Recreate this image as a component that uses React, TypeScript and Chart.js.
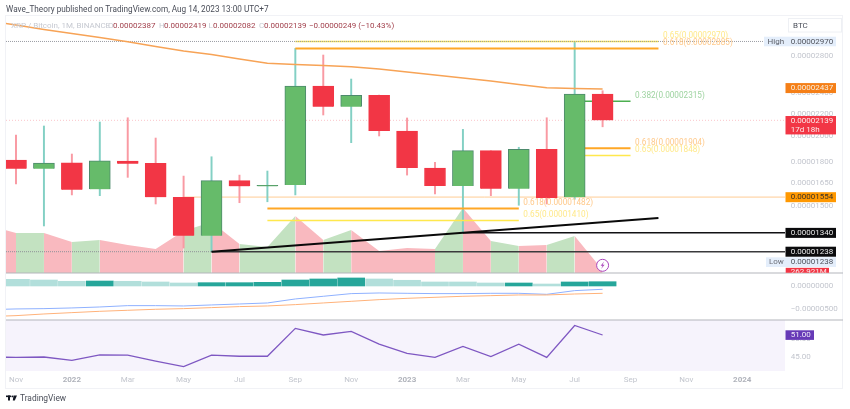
import { useEffect, useRef } from "react"
import { Chart, registerables } from "chart.js"

Chart.register(...registerables)

// prices in satoshi (1e-8 BTC). Index 0 = Nov 2021
const opens = [1813, 1749, 1793, 1605, 1806, 1789, 1553, 1323, 1664, 1625, 1634, 2467, 2264, 2373, 2046, 1754, 1627, 1885, 1609, 1896, 1553, 2387]
const highs = [2012, 2089, 1859, 2124, 2162, 1987, 1696, 1838, 1703, 1732, 2885, 2807, 2540, 2376, 2160, 1796, 2060, 1885, 1912, 2162, 2970, 2419]
const lows = [1641, 1378, 1568, 1563, 1687, 1510, 1257, 1238, 1518, 1524, 1568, 2187, 1949, 2004, 1703, 1574, 1345, 1563, 1502, 1510, 1540, 2082]
const closes = [1749, 1791, 1602, 1808, 1786, 1553, 1323, 1664, 1625, 1632, 2467, 2264, 2373, 2046, 1754, 1627, 1885, 1609, 1896, 1548, 2387, 2139]

// line series start one month earlier (Oct 2021), off the left edge
const months = [-1, 0, 1, 2, 3, 4, 5, 6, 7, 8, 9, 10, 11, 12, 13, 14, 15, 16, 17, 18, 19, 20, 21]
const ema = [3234, 3180, 3121, 3069, 3019, 2967, 2908, 2854, 2813, 2761, 2712, 2698, 2687, 2674, 2648, 2615, 2583, 2551, 2519, 2483, 2450, 2442, 2437]
const volumes = [4224, 3520, 3520, 2728, 2904, 2464, 2112, 3696, 4488, 2552, 2288, 5016, 2904, 3784, 1936, 2200, 2112, 5720, 2816, 2376, 2464, 3256, 263]
const macdLine = [-514, -499, -492, -477, -456, -427, -427, -434, -412, -391, -369, -282, -224, -166, -152, -159, -166, -166, -159, -159, -181, -101, -72]
const signalLine = [-665, -644, -608, -579, -550, -528, -506, -492, -470, -448, -434, -405, -369, -333, -297, -268, -246, -224, -210, -195, -195, -174, -159]
const rsi = [45.0, 44.9, 45.0, 44.1, 45.6, 45.5, 43.9, 42.4, 45.5, 45.2, 45.2, 52.8, 51.0, 52.0, 48.5, 46.0, 44.9, 47.9, 45.1, 48.5, 44.9, 53.6, 51.0]
const histogram = [145, 130, 102, 108, 102, 87, 65, 72, 72, 80, 130, 152, 174, 152, 124, 87, 87, 65, 65, 43, 87, 93]
const histogramRising = [false, false, false, true, false, false, false, true, true, true, true, true, true, false, false, false, false, false, true, false, true, true]

const fibRatios = ["0.65", "0.618", "0.382", "0.618", "0.65", "0.618", "0.65"]
const fibPrices = [2970, 2885, 2315, 1904, 1848, 1482, 1410]
const fibStarts = [10, 10, 20, 20, 20, 9, 9]
const fibEnds = [23, 23, 22, 22, 22, 18, 18]

const trendStart = [7, 1238]
const trendEnd = [23, 1424]

const priceTicks = [2800, 2400, 2200, 2000, 1800, 1650, 1500]
const macdTicks = [0, -500]
const rsiTicks = [50, 45]
const timeTicks = [0, 2, 4, 6, 8, 10, 12, 14, 16, 18, 20, 22, 24, 26]
const timeLabels = ["Nov", "2022", "Mar", "May", "Jul", "Sep", "Nov", "2023", "Mar", "May", "Jul", "Sep", "Nov", "2024"]

const FONT = "Roboto, sans-serif"
const GREEN = "#66bb6a"
const RED = "#f23645"
const GRID_TEXT = "#c3c6ce"
const fibColor = (r: string) => (r === "0.65" ? "#ffe84d" : r === "0.382" ? "#4caf50" : "#ffa726")
const fibWidth = (r: string) => (r === "0.618" ? 2 : 1.6)
const fibTextColor = (r: string) => (r === "0.65" ? "#ffe98a" : r === "0.382" ? "#9ed3a0" : "#ffc98a")
const sat = (v: number) => (v / 1e8).toFixed(8)
const isUp = closes.map((c, i) => c >= opens[i])
const candleX = closes.map((_, i) => i)
const isYear = (v: number) => !!timeLabels[timeTicks.indexOf(v)]?.startsWith("20")

const hline = (x0: number, x1: number, y: number, color: string, width: number, dash: number[] = [], order = 5) => ({
  type: "line" as const,
  data: [{ x: x0, y }, { x: x1, y }],
  yAxisID: "y",
  borderColor: color,
  borderWidth: width,
  borderDash: dash,
  pointRadius: 0,
  order,
})

const X_MIN = -0.358
const X_MAX = 27.53

const painter = {
  id: "painter",
  beforeDatasetsDraw(chart: any) {
    const { ctx, chartArea: a, scales } = chart
    const rsiTop = scales.rsi.top
    ctx.save()
    ctx.fillStyle = "#f6f3fc"
    ctx.fillRect(a.left, rsiTop, a.right - a.left, scales.rsi.bottom - rsiTop)
    ctx.restore()
  },
  afterDraw(chart: any) {
    const { ctx, scales } = chart
    const px = scales.y
    const text = (s: string, x: number, y: number, color: string, font = "8px " + FONT, align: CanvasTextAlign = "left") => {
      ctx.font = font
      ctx.fillStyle = color
      ctx.textAlign = align
      ctx.textBaseline = "middle"
      ctx.fillText(s, x, y)
    }
    ctx.save()

    // frame and pane separators
    ctx.strokeStyle = "#f1f2f6"
    ctx.lineWidth = 1
    ctx.strokeRect(5.5, 15.5, 837, 373)
    ctx.fillStyle = "#b4b6bc"
    ctx.fillRect(6, 272.5, 837, 1)
    ctx.fillRect(6, 319.5, 837, 1)

    // header
    text("Wave_Theory published on TradingView.com, Aug 14, 2023 13:00 UTC+7", 6, 9.5, "#4a4e59", "8.2px " + FONT)
    const valueColor = "#a2404c"
    text("XRP / Bitcoin, 1M, BINANCE", 11, 25.5, "#c6c9d1")
    text("O", 108, 25.5, "#c6c9d1")
    text("0.00002387", 113, 25.5, valueColor)
    text("H", 159, 25.5, "#c6c9d1")
    text("0.00002419", 164, 25.5, valueColor)
    text("L", 208.5, 25.5, "#c6c9d1")
    text("0.00002082", 213, 25.5, valueColor)
    text("C", 259, 25.5, "#c6c9d1")
    text("0.00002139", 264, 25.5, valueColor)
    text("\u22120.00000249 (\u221210.43%)", 309, 25.5, valueColor)

    // fib labels
    const fibDy = [-5.8, -5.4, -5.3, -5.8, -5.3, -5.8, -5.4]
    fibRatios.forEach((r, i) => {
      const x = scales.x.getPixelForValue(fibEnds[i]) + 4.5
      text(`${r}(${sat(fibPrices[i])})`, x, px.getPixelForValue(fibPrices[i]) + fibDy[i], fibTextColor(r), "8.2px " + FONT)
    })

    // BTC box
    ctx.strokeStyle = "#eef0f4"
    ctx.strokeRect(788.5, 18.5, 53, 13.5)
    text("BTC", 793, 25.5, "#4a4e59")

    // price badges
    const badge = (v: number, bg: string, fg = "#f4f4f4", dy = 0, h = 10) => {
      const y = px.getPixelForValue(v) + dy
      ctx.fillStyle = bg
      ctx.fillRect(785.5, y - 5, 50.5, h)
      text(sat(v), 790.7, y, fg)
      return y
    }
    ctx.fillStyle = "#e4eefb"
    ctx.fillRect(764, 36.7, 72, 9.6)
    text("High", 767.5, 41.5, "#5d6069")
    text(sat(2970), 790.7, 41.5, "#50535c")
    badge(2437, "#f57f17", "#f8efe0", -0.9)
    badge(2139, RED, "#fbeaea", 0.7, 18.4)
    text("17d 18h", 790.7, 129.5, "#fbeaea")
    badge(1554, "#ff9800", "#3a3226", 0.1)
    badge(1340, "#0b0b0d", "#e8e8e8", 0.2)
    badge(1238, "#0b0b0d", "#e8e8e8", 0)
    ctx.fillStyle = "#e4eefb"
    ctx.fillRect(766, 257.3, 70, 9.7)
    text("Low", 769, 262, "#6d7079")
    text(sat(1238), 790.7, 262, "#50535c")

    // current volume tag, cut by the pane edge
    ctx.save()
    ctx.beginPath()
    ctx.rect(785, 267.5, 50, 5.2)
    ctx.clip()
    ctx.fillStyle = RED
    ctx.fillRect(785.7, 267.7, 43.3, 6)
    text("262.921M", 790.7, 272, "#fbeaea")
    ctx.restore()

    // RSI badge
    const rsiY = scales.rsi.getPixelForValue(51)
    ctx.fillStyle = "#673ab7"
    ctx.fillRect(785.5, rsiY - 4.7, 28.5, 9.6)
    text("51.00", 790.7, rsiY, "#f1ecf9")

    // lightning marker
    const mx = scales.x.getPixelForValue(21)
    const my = 265.3
    ctx.strokeStyle = "#ab47bc"
    ctx.lineWidth = 1
    ctx.fillStyle = "#ffffff"
    ctx.beginPath()
    ctx.arc(mx, my, 6, 0, Math.PI * 2)
    ctx.fill()
    ctx.stroke()
    ctx.fillStyle = "#ab47bc"
    ctx.beginPath()
    ctx.moveTo(mx + 1.5, my - 3.8)
    ctx.lineTo(mx - 2, my + 0.5)
    ctx.lineTo(mx, my + 0.5)
    ctx.lineTo(mx - 1.5, my + 3.8)
    ctx.lineTo(mx + 2, my - 0.6)
    ctx.lineTo(mx, my - 0.6)
    ctx.closePath()
    ctx.fill()

    // TradingView mark
    ctx.fillStyle = "#131722"
    ctx.fillRect(6, 395.5, 5, 1.6)
    ctx.fillRect(8, 395.5, 2, 5)
    ctx.beginPath()
    ctx.arc(12.3, 396.4, 0.9, 0, Math.PI * 2)
    ctx.fill()
    ctx.beginPath()
    ctx.moveTo(13.5, 395.5)
    ctx.lineTo(17, 395.5)
    ctx.lineTo(14.8, 400.5)
    ctx.lineTo(12.8, 400.5)
    ctx.closePath()
    ctx.fill()
    text("TradingView", 20, 398.7, "#4a4e59", "8.4px " + FONT)

    ctx.restore()
  },
}

export default function App() {
  const canvasRef = useRef<HTMLCanvasElement>(null)

  useEffect(() => {
    if (!canvasRef.current) return
    const ctx = canvasRef.current.getContext("2d")
    if (!ctx) return

    const chart = new Chart(ctx, {
      type: "bar",
      data: {
        datasets: [
          {
            type: "line",
            data: months.map((x, i) => ({ x, y: volumes[i] })),
            yAxisID: "vol",
            borderWidth: 0,
            pointRadius: 0,
            backgroundColor: "#f9b9bf",
            fill: { value: 0 },
            segment: {
              backgroundColor: (c: any) => (isUp[c.p1DataIndex - 1] ? "#c3e2c1" : "#f9b9bf"),
            },
            order: 30,
          },
          hline(X_MIN, 7, 1238, "#8f9199", 1, [1, 1], 29),
          hline(X_MIN, X_MAX, 2970, "#9a9ca4", 1, [1, 1], 3),
          hline(X_MIN, X_MAX, 2139, "#fbc4c9", 1, [1, 2], 29),
          hline(6, X_MAX, 1554, "#ffcc94", 1, [], 28),
          {
            type: "bar",
            data: candleX.map((x, i) => ({ x, y: [lows[i], highs[i]] })),
            yAxisID: "y",
            barThickness: 1.3,
            grouped: false,
            backgroundColor: isUp.map((u) => (u ? "#83d0c4" : "#f99aa3")),
            order: 12,
          },
          {
            type: "bar",
            data: candleX.map((x, i) => ({ x, y: [opens[i], closes[i]] })),
            yAxisID: "y",
            barThickness: 21,
            grouped: false,
            backgroundColor: isUp.map((u) => (u ? GREEN : RED)),
            borderColor: isUp.map((u) => (u ? "#4d8a6c" : RED)),
            borderWidth: 1,
            order: 10,
          },
          ...fibPrices.map((p, i) =>
            hline(fibStarts[i], fibEnds[i], p, fibColor(fibRatios[i]), fibWidth(fibRatios[i]), [], i < 2 ? 4 : i < 5 ? 11 : 4),
          ),
          hline(7, X_MAX, 1238, "#3a3a3c", 1.4, [], 3),
          hline(16, X_MAX, 1340, "#111114", 1.4, [], 3),
          {
            type: "line",
            data: [
              { x: trendStart[0], y: trendStart[1] },
              { x: trendEnd[0], y: trendEnd[1] },
            ],
            yAxisID: "y",
            borderColor: "#0a0a0a",
            borderWidth: 2,
            pointRadius: 0,
            order: 2,
          },
          {
            type: "line",
            data: months.map((x, i) => ({ x, y: ema[i] })),
            yAxisID: "y",
            borderColor: "#f7a356",
            borderWidth: 1.5,
            pointRadius: 0,
            order: 1,
          },
          {
            type: "bar",
            data: candleX.map((x, i) => ({ x, y: histogram[i] })),
            yAxisID: "macd",
            barThickness: 27,
            grouped: false,
            backgroundColor: histogramRising.map((u) => (u ? "#26a69a" : "#b2dfdb")),
            order: 9,
          },
          {
            type: "line",
            data: months.map((x, i) => ({ x, y: macdLine[i] })),
            yAxisID: "macd",
            borderColor: "#8fb1ff",
            borderWidth: 1,
            pointRadius: 0,
            order: 8,
          },
          {
            type: "line",
            data: months.map((x, i) => ({ x, y: signalLine[i] })),
            yAxisID: "macd",
            borderColor: "#ffb27a",
            borderWidth: 1,
            pointRadius: 0,
            order: 7,
          },
          {
            type: "line",
            data: months.map((x, i) => ({ x, y: rsi[i] })),
            yAxisID: "rsi",
            borderColor: "#7e57c2",
            borderWidth: 1.3,
            pointRadius: 0,
            order: 6,
          },
        ] as any,
      },
      options: {
        responsive: false,
        animation: false,
        font: { family: FONT },
        layout: { padding: { left: 6, top: 16, right: 7, bottom: 21 } },
        plugins: { legend: { display: false }, tooltip: { enabled: false } },
        elements: { line: { tension: 0 } },
        scales: {
          x: {
            type: "linear",
            min: X_MIN,
            max: X_MAX,
            offset: false,
            grid: { display: false, drawTicks: false },
            border: { display: false },
            afterBuildTicks: (s: any) => {
              s.ticks = timeTicks.map((value) => ({ value }))
            },
            afterFit: (s: any) => {
              s.height = 17
            },
            ticks: {
              autoSkip: false,
              maxRotation: 0,
              padding: 4,
              color: (c: any) => (isYear(c.tick?.value) ? "#b0b3bb" : GRID_TEXT),
              font: (c: any) => ({
                family: FONT,
                size: 8,
                weight: isYear(c.tick?.value) ? "bold" : "normal",
              }),
              callback: (v: any) => timeLabels[timeTicks.indexOf(v)] ?? "",
            },
          },
          y: {
            type: "logarithmic",
            position: "right",
            stack: "panes",
            stackWeight: 257,
            min: 1133,
            max: 3302,
            bounds: "data",
            grid: { display: false, drawTicks: false },
            border: { display: false },
            afterBuildTicks: (s: any) => {
              s.ticks = priceTicks.map((value) => ({ value }))
            },
            afterFit: (s: any) => {
              s.width = 58
            },
            ticks: {
              autoSkip: false,
              padding: 5.7,
              color: GRID_TEXT,
              font: { family: FONT, size: 8 },
              callback: (v: any) => sat(Number(v)),
            },
          },
          macd: {
            type: "linear",
            position: "right",
            stack: "panes",
            stackWeight: 47,
            min: -739,
            max: 282,
            grid: { display: false, drawTicks: false },
            border: { display: false },
            afterBuildTicks: (s: any) => {
              s.ticks = macdTicks.map((value) => ({ value }))
            },
            afterFit: (s: any) => {
              s.width = 58
            },
            ticks: {
              autoSkip: false,
              padding: 5.7,
              color: GRID_TEXT,
              font: { family: FONT, size: 8 },
              callback: (v: any) => (Number(v) < 0 ? "\u2212" + sat(-Number(v)) : sat(Number(v))),
            },
          },
          rsi: {
            type: "linear",
            position: "right",
            stack: "panes",
            stackWeight: 51,
            min: 41.18,
            max: 55.09,
            grid: { display: false, drawTicks: false },
            border: { display: false },
            afterBuildTicks: (s: any) => {
              s.ticks = rsiTicks.map((value) => ({ value }))
            },
            afterFit: (s: any) => {
              s.width = 58
            },
            ticks: {
              autoSkip: false,
              padding: 5.7,
              color: GRID_TEXT,
              font: { family: FONT, size: 8 },
              callback: (v: any) => Number(v).toFixed(2),
            },
          },
          // volume shares the price pane, hidden, zero on the pane floor
          vol: {
            type: "linear",
            display: false,
            min: -8624,
            max: 22616,
          },
        },
      } as any,
      plugins: [painter],
    })

    return () => {
      chart.destroy()
    }
  }, [])

  return (
    <div style={{ position: "absolute", left: 0, top: 0, width: 850, height: 409 }}>
      <canvas ref={canvasRef} width={850} height={409} style={{ display: "block", width: 850, height: 409 }} />
    </div>
  )
}
